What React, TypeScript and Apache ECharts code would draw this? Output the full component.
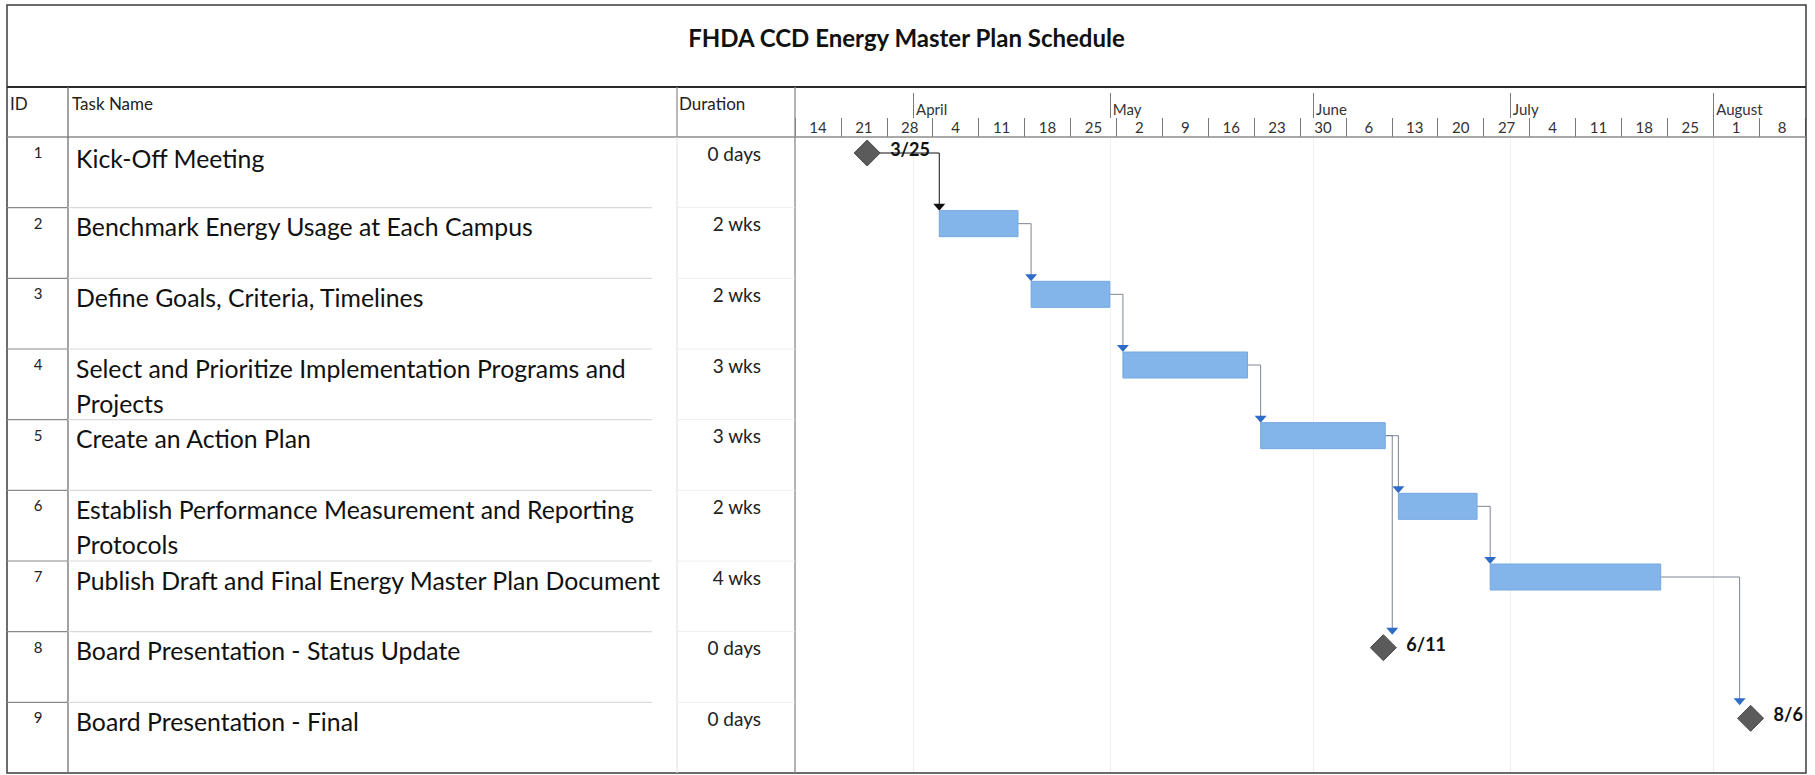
import React, { useEffect, useRef } from 'react';
import * as echarts from 'echarts';

// ---------- data ----------
const chartTitle = 'FHDA CCD Energy Master Plan Schedule';
const headerLabels = ['ID', 'Task Name', 'Duration'];
const taskIds = ['1', '2', '3', '4', '5', '6', '7', '8', '9'];
const taskNames = [
  'Kick-Off Meeting',
  'Benchmark Energy Usage at Each Campus',
  'Define Goals, Criteria, Timelines',
  'Select and Prioritize Implementation Programs and\nProjects',
  'Create an Action Plan',
  'Establish Performance Measurement and Reporting\nProtocols',
  'Publish Draft and Final Energy Master Plan Document',
  'Board Presentation - Status Update',
  'Board Presentation - Final',
];
const durations = ['0 days', '2 wks', '2 wks', '3 wks', '3 wks', '2 wks', '4 wks', '0 days', '0 days'];
const taskStarts = ['2021-03-25', '2021-04-05', '2021-04-19', '2021-05-03', '2021-05-24', '2021-06-14', '2021-06-28', '2021-06-11T17:00', '2021-08-06T17:00'];
const taskFinishes = ['2021-03-25', '2021-04-16', '2021-04-30', '2021-05-21', '2021-06-11', '2021-06-25', '2021-07-23', '2021-06-11T17:00', '2021-08-06T17:00'];
const milestoneLabels = ['3/25', '', '', '', '', '', '', '6/11', '8/6'];
const linkFrom = [0, 1, 2, 3, 4, 4, 5, 6];
const linkTo = [1, 2, 3, 4, 5, 7, 6, 8];
const weekLabels = ['14', '21', '28', '4', '11', '18', '25', '2', '9', '16', '23', '30', '6', '13', '20', '27', '4', '11', '18', '25', '1', '8'];
const monthLabels = ['April', 'May', 'June', 'July', 'August'];
const monthStarts = ['2021-04-01', '2021-05-01', '2021-06-01', '2021-07-01', '2021-08-01'];
const timelineStart = '2021-03-14';
const timelineEnd = '2021-08-15';

// ---------- helpers ----------
const utc = (s: string) => {
  const [d, t] = s.split('T');
  const [y, m, dd] = d.split('-').map(Number);
  let h = 0, mi = 0;
  if (t) [h, mi] = t.split(':').map(Number);
  return Date.UTC(y, m - 1, dd, h, mi);
};
const toDay = (s: string) => (utc(s) - utc(timelineStart)) / 86400000;
const isMilestone = (i: number) => durations[i].startsWith('0');

const FONT = 'Lato, "Noto Sans", sans-serif';

// ---------- layout (page pixels) ----------
const L = 7, R = 1806, T = 5, B = 773;
const TITLE_B = 87, HEAD_B = 137;
const COL1 = 68, COL2 = 677, COL3 = 795;
const ROW_H = (B - HEAD_B) / taskIds.length;

function buildOption() {
  const taskData = taskIds.map((_, i) => {
    const ms = isMilestone(i);
    const s = toDay(taskStarts[i]);
    const e = ms ? toDay(taskFinishes[i]) : toDay(taskFinishes[i]) + 1;
    return [s, e, i, ms ? 1 : 0];
  });
  const linkData = linkFrom.map((f, k) => {
    const t = linkTo[k];
    const fm = isMilestone(f);
    const tm = isMilestone(t);
    const sx = fm ? taskData[f][0] : taskData[f][1];
    const tx = taskData[t][0];
    return [sx, f, tx, t, fm ? 1 : 0, tm ? 1 : 0];
  });
  const monthDays = monthStarts.map(toDay);

  const graphic: any[] = [];
  // outer border & table lines
  graphic.push({ type: 'rect', shape: { x: L, y: T, width: R - L, height: B - T }, style: { fill: 'none', stroke: '#3c3c3c', lineWidth: 1.5 }, z: 10 });
  graphic.push({ type: 'line', shape: { x1: L, y1: TITLE_B, x2: R, y2: TITLE_B }, style: { stroke: '#2a2a2a', lineWidth: 2 }, z: 10 });
  graphic.push({ type: 'line', shape: { x1: L, y1: HEAD_B, x2: R, y2: HEAD_B }, style: { stroke: '#8c8c8c', lineWidth: 1.5 }, z: 10 });
  graphic.push({ type: 'line', shape: { x1: COL1, y1: TITLE_B, x2: COL1, y2: B }, style: { stroke: '#707070', lineWidth: 1.3 }, z: 10 });
  graphic.push({ type: 'line', shape: { x1: COL2, y1: TITLE_B, x2: COL2, y2: HEAD_B }, style: { stroke: '#8a8a8a', lineWidth: 1.2 }, z: 10 });
  graphic.push({ type: 'line', shape: { x1: COL2, y1: HEAD_B, x2: COL2, y2: B }, style: { stroke: '#dedede', lineWidth: 1 }, z: 10 });
  graphic.push({ type: 'line', shape: { x1: COL3, y1: TITLE_B, x2: COL3, y2: B }, style: { stroke: '#8a8a8a', lineWidth: 1.3 }, z: 10 });
  // title
  graphic.push({ type: 'text', x: (L + R) / 2, y: 37, style: { text: chartTitle, font: `bold 24px ${FONT}`, fill: '#111', align: 'center', verticalAlign: 'middle' }, z: 11 });
  // header labels
  const headX = [L + 3, COL1 + 4, COL2 + 2];
  headerLabels.forEach((h, k) => {
    graphic.push({ type: 'text', x: headX[k], y: 103, style: { text: h, font: `17px ${FONT}`, fill: '#222', align: 'left', verticalAlign: 'middle' }, z: 11 });
  });
  // rows
  taskIds.forEach((id, i) => {
    const top = HEAD_B + i * ROW_H;
    if (i > 0) {
      graphic.push({ type: 'line', shape: { x1: L, y1: top, x2: COL1, y2: top }, style: { stroke: '#8a8a8a', lineWidth: 1.2 }, z: 10 });
      graphic.push({ type: 'line', shape: { x1: COL1, y1: top, x2: COL2 - 25, y2: top }, style: { stroke: '#dadada', lineWidth: 1.2 }, z: 10 });
      graphic.push({ type: 'line', shape: { x1: COL2, y1: top, x2: COL3, y2: top }, style: { stroke: '#eeeeee', lineWidth: 1 }, z: 10 });
    }
    graphic.push({ type: 'text', x: 38, y: top + 15, style: { text: id, font: `15px ${FONT}`, fill: '#222', align: 'center', verticalAlign: 'middle' }, z: 11 });
    taskNames[i].split('\n').forEach((line, j) => {
      graphic.push({ type: 'text', x: COL1 + 8, y: top + (i === 0 ? 21 : 19) + j * 35, style: { text: line, font: `24.8px ${FONT}`, fill: '#111', align: 'left', verticalAlign: 'middle' }, z: 11 });
    });
    graphic.push({ type: 'text', x: 761, y: top + 16, style: { text: durations[i], font: `19px ${FONT}`, fill: '#222', align: 'right', verticalAlign: 'middle' }, z: 11 });
  });

  return {
    animation: false,
    backgroundColor: '#ffffff',
    textStyle: { fontFamily: FONT },
    grid: { left: COL3, top: HEAD_B, width: R - 1 - COL3, height: B - HEAD_B, containLabel: false },
    xAxis: [
      { type: 'value', min: toDay(timelineStart), max: toDay(timelineEnd), show: false },
      {
        type: 'category', data: weekLabels, position: 'top', boundaryGap: true,
        axisLine: { show: false },
        axisTick: { show: true, interval: 0, length: 19, lineStyle: { color: '#7a7a7a', width: 1 } },
        axisLabel: { interval: 0, margin: 3, fontSize: 15, color: '#333', fontFamily: FONT },
        splitLine: { show: false },
      },
      {
        type: 'value', min: toDay(timelineStart), max: toDay(timelineEnd), position: 'top', offset: 19,
        axisLine: { show: false },
        axisTick: { show: true, customValues: monthDays, length: 25, lineStyle: { color: '#7a7a7a', width: 1 } },
        axisLabel: {
          customValues: monthDays, align: 'left', margin: 2, padding: [0, 0, 0, 3],
          fontSize: 15, color: '#333', fontFamily: FONT,
          formatter: (v: number) => monthLabels[monthDays.indexOf(v)] ?? '',
        },
        splitLine: { show: false },
      },
    ],
    yAxis: { type: 'category', data: taskIds, inverse: true, show: false },
    graphic,
    series: [
      {
        type: 'custom', name: 'gridlines', xAxisIndex: 0, yAxisIndex: 0, z: 1,
        data: [],
        renderItem: () => null,
        markLine: {
          z: 1, silent: true, symbol: 'none', label: { show: false },
          lineStyle: { color: '#f0f0f0', width: 1, type: 'solid' },
          data: monthDays.map((d) => ({ xAxis: d })),
        },
      },
      {
        type: 'custom', name: 'links', xAxisIndex: 0, yAxisIndex: 0, z: 6,
        data: linkData,
        encode: { x: [0, 2], y: [1, 3] },
        renderItem: (params: any, api: any) => {
          const sp = api.coord([api.value(0), api.value(1)]);
          const tp = api.coord([api.value(2), api.value(3)]);
          const bandH = api.size([0, 1])[1];
          const fromMs = api.value(4) === 1;
          const toMs = api.value(5) === 1;
          const sy = sp[1] - bandH / 2 + 16;
          const tTop = tp[1] - bandH / 2;
          const tx = toMs ? tp[0] - 11 : tp[0];
          const tipY = toMs ? tTop + 16 - 13 : tTop + 3;
          const xt = Math.max(tx, sp[0] + 7);
          const lineColor = fromMs ? '#111111' : '#7d8592';
          const arrowColor = fromMs ? '#111111' : '#2f6cc7';
          return {
            type: 'group',
            children: [
              { type: 'polyline', shape: { points: [[sp[0], sy], [xt, sy], [xt, tipY - 6]] }, style: { stroke: lineColor, lineWidth: 1, fill: 'none' } },
              { type: 'polygon', shape: { points: [[xt - 6, tipY - 7], [xt + 6, tipY - 7], [xt, tipY]] }, style: { fill: arrowColor } },
            ],
          };
        },
      },
      {
        type: 'custom', name: 'tasks', xAxisIndex: 0, yAxisIndex: 0, z: 7,
        data: taskData,
        encode: { x: [0, 1], y: 2 },
        renderItem: (params: any, api: any) => {
          const row = api.value(2);
          const s = api.coord([api.value(0), row]);
          const e = api.coord([api.value(1), row]);
          const bandH = api.size([0, 1])[1];
          const top = s[1] - bandH / 2;
          const cy = top + 16;
          if (api.value(3) === 1) {
            const r = 13;
            return {
              type: 'group',
              children: [
                { type: 'polygon', shape: { points: [[s[0], cy - r], [s[0] + r, cy], [s[0], cy + r], [s[0] - r, cy]] }, style: { fill: '#5b5b5b', stroke: '#4a4a4a', lineWidth: 1 } },
                { type: 'text', x: s[0] + 23, y: cy - 4, style: { text: milestoneLabels[params.dataIndex], font: `bold 18px ${FONT}`, fill: '#111', align: 'left', verticalAlign: 'middle' } },
              ],
            };
          }
          return {
            type: 'rect',
            shape: { x: s[0], y: top + 3, width: e[0] - s[0], height: 26 },
            style: { fill: '#84b5ea', stroke: '#74a7e0', lineWidth: 1 },
          };
        },
      },
    ],
  };
}

export default function App() {
  const ref = useRef<HTMLDivElement>(null);
  useEffect(() => {
    if (!ref.current) return;
    const chart = echarts.init(ref.current, null, { renderer: 'svg' });
    chart.setOption(buildOption() as any);
    return () => chart.dispose();
  }, []);
  return (
    <div
      ref={ref}
      style={{ position: 'fixed', left: 0, top: 0, width: 1815, height: 775, background: '#ffffff' }}
    />
  );
}
